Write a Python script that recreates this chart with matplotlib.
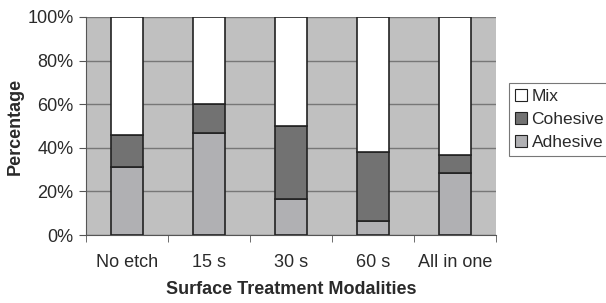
import numpy as np
import matplotlib.pyplot as plt
from matplotlib.ticker import PercentFormatter

categories = ['No etch', '15 s', '30 s', '60 s', 'All in one']
adhesive = [31, 47, 16.5, 6.5, 28.5]
cohesive = [15, 13, 33.5, 31.5, 8]
mix = [54, 40, 50, 62, 63.5]

plt.rcParams['font.family'] = ['Liberation Sans', 'DejaVu Sans']
plt.rcParams['text.color'] = '#2a2a2a'
plt.rcParams['axes.labelcolor'] = '#2a2a2a'
plt.rcParams['xtick.labelcolor'] = '#2a2a2a'
plt.rcParams['ytick.labelcolor'] = '#2a2a2a'

fig = plt.figure(figsize=(6.06, 3.03), dpi=100)
ax = fig.add_axes([86 / 606, 1 - 235 / 303, 410 / 606, 218 / 303])
ax.set_facecolor('#c0c0c0')

x = np.arange(len(categories))
w = 0.39
bottom2 = np.array(adhesive) + np.array(cohesive)
ax.bar(x, adhesive, w, color='#b0b0b3', edgecolor='#222222', linewidth=1.2, label='Adhesive', zorder=3)
ax.bar(x, cohesive, w, bottom=adhesive, color='#727272', edgecolor='#222222', linewidth=1.2, label='Cohesive', zorder=3)
ax.bar(x, mix, w, bottom=bottom2, color='white', edgecolor='#222222', linewidth=1.2, label='Mix', zorder=3)

ax.set_xlim(-0.5, len(categories) - 0.5)
ax.set_ylim(0, 100)
ax.set_yticks(range(0, 101, 20))
ax.yaxis.set_major_formatter(PercentFormatter(decimals=0))
ax.yaxis.grid(True, color='#777777', linewidth=1.0, zorder=1)
ax.set_axisbelow(True)
ax.set_xticks(x)
ax.set_xticklabels(categories)
ax.set_xticks(np.arange(-0.5, len(categories), 1), minor=True)
ax.tick_params(axis='x', which='major', length=0, pad=14, labelsize=13)
ax.tick_params(axis='x', which='minor', length=5, color='#555555')
ax.tick_params(axis='y', length=5, labelsize=13, color='#555555', pad=4)
for s in ['top', 'right']:
    ax.spines[s].set_visible(False)
for s in ['left', 'bottom']:
    ax.spines[s].set_color('#555555')

ax.set_ylabel('Percentage', fontsize=13, fontweight='bold')
ax.yaxis.set_label_coords(-0.152, 0.5)
ax.set_xlabel('Surface Treatment Modalities', fontsize=13, fontweight='bold', labelpad=7)

h, l = ax.get_legend_handles_labels()
leg = fig.legend(h[::-1], l[::-1], loc='upper left', bbox_to_anchor=(509 / 606, 1 - 83 / 303),
                 frameon=True, fancybox=False, edgecolor='#555555', fontsize=12.5,
                 handlelength=0.7, handleheight=0.7, handletextpad=0.25, borderpad=0.35,
                 labelspacing=0.45, borderaxespad=0)
leg.get_frame().set_linewidth(0.8)
for p in leg.get_patches():
    p.set_linewidth(0.8)

fig.savefig('out.png', dpi=100)
